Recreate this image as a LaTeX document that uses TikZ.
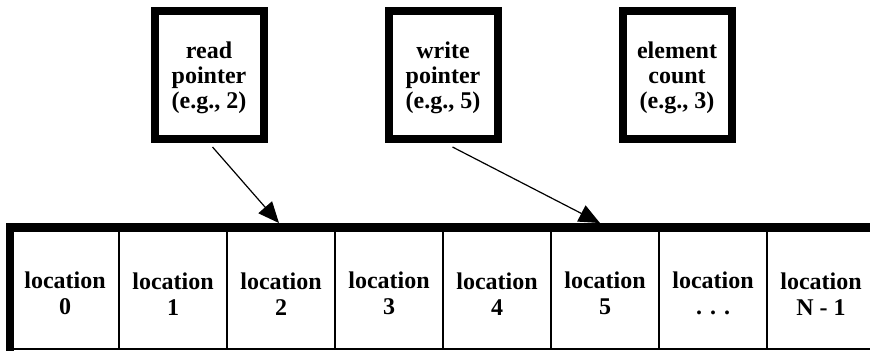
\documentclass[tikz,border=0pt]{standalone}
\usepackage{fontspec}
\setmainfont{Liberation Serif}
\usepackage{tikz}
\usetikzlibrary{arrows.meta,shapes,positioning}
\tikzset{pointer/.style={-{Triangle[length=10.5pt,width=9pt]}, line width=0.6pt}}

\begin{document}
\begin{tikzpicture}[every node/.style={align=center, inner sep=0pt, font=\fontsize{12}{12.5}\selectfont\bfseries}]
                \useasboundingbox (0,0) rectangle (435pt,-176.5pt);
                \begin{scope}[cell/.style={draw, line width=1pt, minimum width=54pt, minimum height=60.25pt, font=\fontsize{12}{13}\selectfont\bfseries, execute at begin node={\rule{0pt}{26.2pt}}},
                              reg/.style={draw, line width=4pt, minimum width=54.5pt, minimum height=64pt, execute at begin node={\rule{0pt}{36pt}}}]
                \node[reg] (rp) at (104.5pt,-37.5pt) {read\\pointer\\(e.g., 2)};
                \node[reg] (wp) [right of = rp, node distance=117pt] {write\\pointer\\(e.g., 5)};
                \node[reg] (ec) [right of = wp, node distance=117pt] {element\\count\\(e.g., 3)};

                \node[cell] (l0) at (32.5pt,-144.4pt) {location\\0};
                \node[cell] (l1) [right of = l0, node distance=54pt] {location\\1};
                \node[cell] (l2) [right of = l1, node distance=54pt] {location\\2};
                \node[cell] (l3) [right of = l2, node distance=54pt] {location\\3};
                \node[cell] (l4) [right of = l3, node distance=54pt] {location\\4};
                \node[cell] (l5) [right of = l4, node distance=54pt] {location\\5};
                \node[cell] (l6) [right of = l5, node distance=54pt] {location\\. . .};
                \node[cell] (l7) [right of = l6, node distance=54pt] {location\\N - 1};

                \draw[line width=4.5pt] ([xshift=-2pt]l0.north west) -- ([xshift=2pt]l7.north east);
                \draw[line width=4pt] ([yshift=2.25pt]l0.north west) -- ([yshift=-0.5pt]l0.south west);

                \draw[pointer] ([xshift=1.75pt,yshift=-2pt]rp.south) -- ([xshift=-1pt,yshift=2.25pt]l2.north);
                \draw[pointer] ([xshift=4.75pt,yshift=-2pt]wp.south) -- ([xshift=-2.5pt,yshift=2.25pt]l5.north);
                \end{scope}
            \end{tikzpicture}
\end{document}
